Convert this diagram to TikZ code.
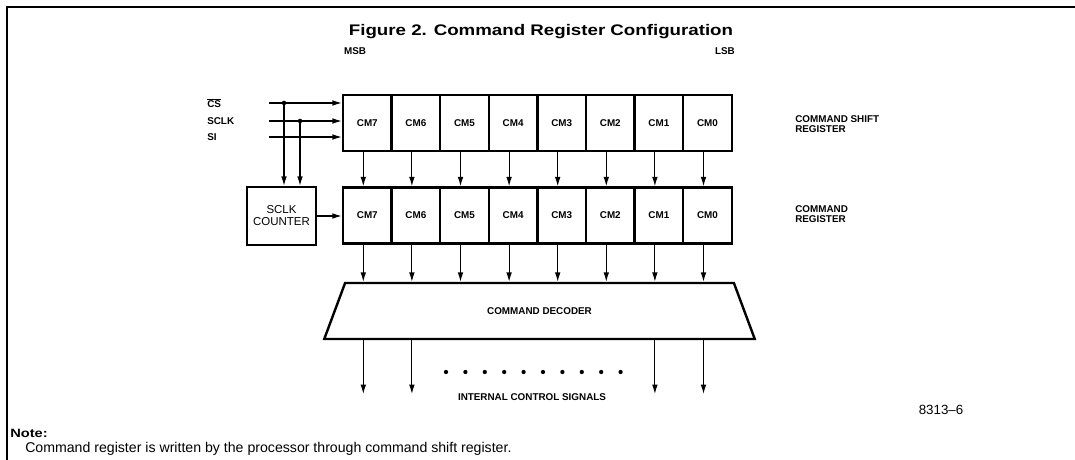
\documentclass[tikz,border=0pt]{standalone}
\usepackage{fontspec}
\setmainfont{Liberation Sans}
\newfontfamily\titlefont[FakeStretch=1.22]{Liberation Sans}
\usepackage{tikz}
\usetikzlibrary{arrows.meta,calc,positioning,shapes.geometric}
\tikzset{%
	cell/.style    = {draw, line width=1.8pt, rectangle, minimum width=36.45pt, minimum height=42pt, inner sep=0pt, text centered, font=\bfseries\fontsize{7.4}{8}\selectfont},
	counter/.style = {draw, line width=1.8pt, rectangle, minimum width=51.75pt, minimum height=43.5pt, align=center, font=\fontsize{8.6}{9}\selectfont},
	decoder/.style = {draw, line width=1.8pt, trapezium, trapezium left angle=69, trapezium right angle=69, trapezium stretches=true, minimum width=323.25pt, minimum height=42pt, font=\bfseries\fontsize{7.4}{8}\selectfont},
	lbl/.style     = {inner sep=0pt, font=\bfseries\fontsize{7.4}{8}\selectfont},
	sig/.style     = {line width=0.85pt, -{Latex[length=7pt,width=4.2pt]}},
}
\begin{document}
\begin{tikzpicture}[x=0.75pt,y=-0.75pt]
	\useasboundingbox (0,0) rectangle (1075,460);
	\draw[line width=1.1pt] (7,460) -- (7,7) -- (1075,7);
	\node[font=\titlefont\bfseries\fontsize{11.5}{12}\selectfont] (title) at (541,32) {Figure 2. Command Register Configuration};
	\node[lbl] (msb) at (355,51) {MSB};
	\node[lbl] (lsb) at (725,51) {LSB};
	% registers
	\foreach \i in {7,6,...,0} {
		\node[cell] (sr\i) at ({343+48.6*(7.5-\i)},123) {CM\i};
		\node[cell] (cr\i) at ({343+48.6*(7.5-\i)},215.5) {CM\i};
	}
	\node[lbl,anchor=west,align=left] (srlbl) at (795,124) {COMMAND SHIFT\\REGISTER};
	\node[lbl,anchor=west,align=left] (crlbl) at (795,214) {COMMAND\\REGISTER};
	\node[counter] (cnt) at (281.5,216) {SCLK\\COUNTER};
	\node[decoder] (dec) at (539.5,311) {COMMAND DECODER};
	% inputs
	\node[lbl,anchor=west] (cslbl) at (207,103) {$\overline{\mbox{CS}}$};
	\node[lbl,anchor=west] (clklbl) at (207,121) {SCLK};
	\node[lbl,anchor=west] (silbl) at (207,137) {SI};
	\coordinate (cs) at (269,103);
	\coordinate (clk) at (269,121);
	\coordinate (si) at (269,137);
	\coordinate (jcs) at (284,103);
	\coordinate (jclk) at (300,121);
	\draw[sig] (cs) -- (cs -| sr7.west);
	\draw[sig] (clk) -- (clk -| sr7.west);
	\draw[sig] (si) -- (si -| sr7.west);
	\draw[sig] (jcs) -- (jcs |- cnt.north);
	\draw[sig] (jclk) -- (jclk |- cnt.north);
	\fill (jcs) circle (1.7pt) (jclk) circle (1.7pt);
	\draw[sig] (cnt.east) -- (cnt.east -| cr7.west);
	% register to register to decoder
	\foreach \i in {7,6,...,0} {
		\draw[sig] ([xshift=-3pt]sr\i.south) -- ([xshift=-3pt]cr\i.north);
		\draw[sig] ([xshift=-3pt]cr\i.south) -- ([xshift=-3pt]cr\i.south |- dec.north);
	}
	% outputs
	\coordinate (bot) at (0,394);
	\foreach \i in {7,6,1,0} {
		\coordinate (out\i) at ([xshift=-3pt]cr\i.south |- bot);
		\draw[sig] ([xshift=-3pt]cr\i.south |- dec.south) -- (out\i);
	}
	\foreach \k in {0,...,9} \fill ({446+19.4*\k},372) circle (1.6pt);
	\node[lbl] (ctl) at (532,397) {INTERNAL CONTROL SIGNALS};
	\node[font=\fontsize{10}{10}\selectfont] (fig) at (941,410) {8313--6};
	\node[anchor=west,inner sep=0pt,font=\titlefont\bfseries\fontsize{9}{10}\selectfont] (note) at (10,433) {Note:};
	\node[anchor=west,inner sep=0pt,font=\fontsize{10.6}{11}\selectfont] (notetxt) at (25,449) {Command register is written by the processor through command shift register.};
\end{tikzpicture}
\end{document}
